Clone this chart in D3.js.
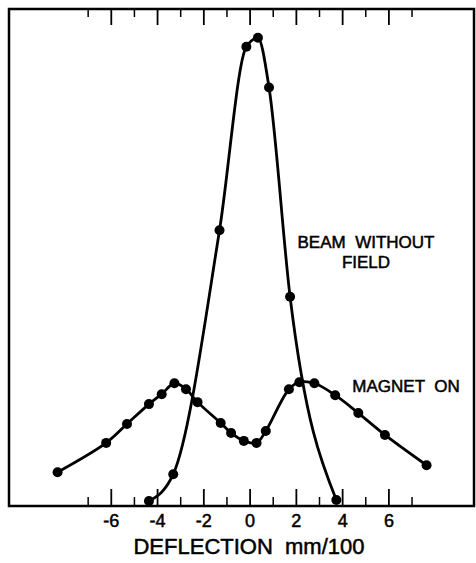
<!DOCTYPE html>
<html>
<head>
<meta charset="utf-8">
<script src="https://cdn.jsdelivr.net/npm/d3@7"></script>
<style>
  body { margin: 0; background: #fff; }
  svg { display: block; }
</style>
</head>
<body>
<div id="chart"></div>
<script>
// values (deflection in mm/100, intensity in arbitrary units)
var beamX = [-4.35, -3.3, -1.3, -0.14, 0.36, 0.84, 1.75, 3.75];
var beamY = [1.0, 6.4, 55.5, 92.4, 94.2, 84.2, 42.1, 1.2];

var magnetX = [-8.3, -6.2, -5.3, -4.35, -3.8, -3.25, -2.75, -2.25, -1.25, -0.8,
               -0.25, 0.3, 0.7, 1.7, 2.15, 2.8, 3.7, 4.7, 5.85, 7.65];
var magnetY = [6.8, 12.7, 16.5, 20.5, 22.5, 24.7, 23.5, 20.9, 16.7, 14.7,
               13.1, 12.7, 15.1, 23.5, 24.9, 24.7, 22.3, 18.7, 14.3, 8.2];

var tickLabels = ["-6", "-4", "-2", "0", "2", "4", "6"];
var majorTicks = [-6, -4, -2, 0, 2, 4, 6];
var minorTicks = [-7, -5, -3, -1, 1, 3, 5, 7];

const width = 476;
const height = 563;

var plotLeft = 9, plotRight = 474, plotTop = 9, plotBottom = 506;

var fontFamily = "'Liberation Sans', Arial, sans-serif",
    lineWidth = 2.8,
    dotRadius = 5;

var svg = d3.select("#chart").append("svg")
    .attr("width", width)
    .attr("height", height);

var x = d3.scaleLinear().domain([-10.4, 9.7]).range([plotLeft, plotRight]);
var y = d3.scaleLinear().domain([0, 100]).range([plotBottom, plotTop]);

// frame
svg.append("rect")
    .attr("x", plotLeft)
    .attr("y", plotTop)
    .attr("width", plotRight - plotLeft)
    .attr("height", plotBottom - plotTop)
    .attr("fill", "none")
    .attr("stroke", "#000")
    .attr("stroke-width", 2.5);

// bottom ticks (inward) with labels
var bottomAxis = d3.axisBottom(x)
    .tickValues(majorTicks)
    .tickSize(-17)
    .tickFormat(function(d, i) { return tickLabels[i]; });

var gb = svg.append("g")
    .attr("transform", "translate(0," + plotBottom + ")")
    .call(bottomAxis);
gb.select(".domain").remove();
gb.selectAll("line").attr("stroke-width", 1.8);
gb.selectAll("text")
    .attr("y", 21)
    .attr("dy", 0)
    .attr("fill", "#000")
    .attr("stroke", "#000")
    .attr("stroke-width", 0.5)
    .style("font-family", fontFamily)
    .style("font-size", "18px");

var gbMinor = svg.append("g")
    .attr("transform", "translate(0," + plotBottom + ")")
    .call(d3.axisBottom(x).tickValues(minorTicks).tickSize(-9).tickFormat(""));
gbMinor.select(".domain").remove();
gbMinor.selectAll("line").attr("stroke-width", 1.5);

// top ticks (inward)
var gt = svg.append("g")
    .attr("transform", "translate(0," + plotTop + ")")
    .call(d3.axisTop(x).tickValues(majorTicks).tickSize(-16).tickFormat(""));
gt.select(".domain").remove();
gt.selectAll("line").attr("stroke-width", 1.8);

var gtMinor = svg.append("g")
    .attr("transform", "translate(0," + plotTop + ")")
    .call(d3.axisTop(x).tickValues(minorTicks).tickSize(-8).tickFormat(""));
gtMinor.select(".domain").remove();
gtMinor.selectAll("line").attr("stroke-width", 1.5);

// axis title
svg.append("text")
    .attr("x", 249)
    .attr("y", 554)
    .attr("text-anchor", "middle")
    .attr("stroke", "#000")
    .attr("stroke-width", 0.5)
    .style("font-family", fontFamily)
    .style("font-size", "22px")
    .attr("xml:space", "preserve")
    .text("DEFLECTION  mm/100");

function drawSeries(xs, ys, curve) {
    var pts = xs.map(function(d, i) { return [d, ys[i]]; });
    var line = d3.line()
        .x(function(d) { return x(d[0]); })
        .y(function(d) { return y(d[1]); })
        .curve(curve);

    svg.append("path")
        .datum(pts)
        .attr("d", line)
        .attr("fill", "none")
        .attr("stroke", "#000")
        .attr("stroke-width", lineWidth);

    svg.append("g").selectAll("circle")
        .data(pts)
        .enter().append("circle")
        .attr("cx", function(d) { return x(d[0]); })
        .attr("cy", function(d) { return y(d[1]); })
        .attr("r", dotRadius)
        .attr("fill", "#000");
}

drawSeries(magnetX, magnetY, d3.curveCatmullRom.alpha(0.5));
drawSeries(beamX, beamY, d3.curveMonotoneX);

// labels
function label(txt, px, py) {
    svg.append("text")
        .attr("x", px)
        .attr("y", py)
        .attr("text-anchor", "middle")
        .attr("xml:space", "preserve")
        .attr("stroke", "#000")
        .attr("stroke-width", 0.5)
        .style("font-family", fontFamily)
        .style("font-size", "17px")
        .text(txt);
}
label("BEAM  WITHOUT", 366, 248);
label("FIELD", 366, 268);
label("MAGNET  ON", 406, 392);
</script>
</body>
</html>
